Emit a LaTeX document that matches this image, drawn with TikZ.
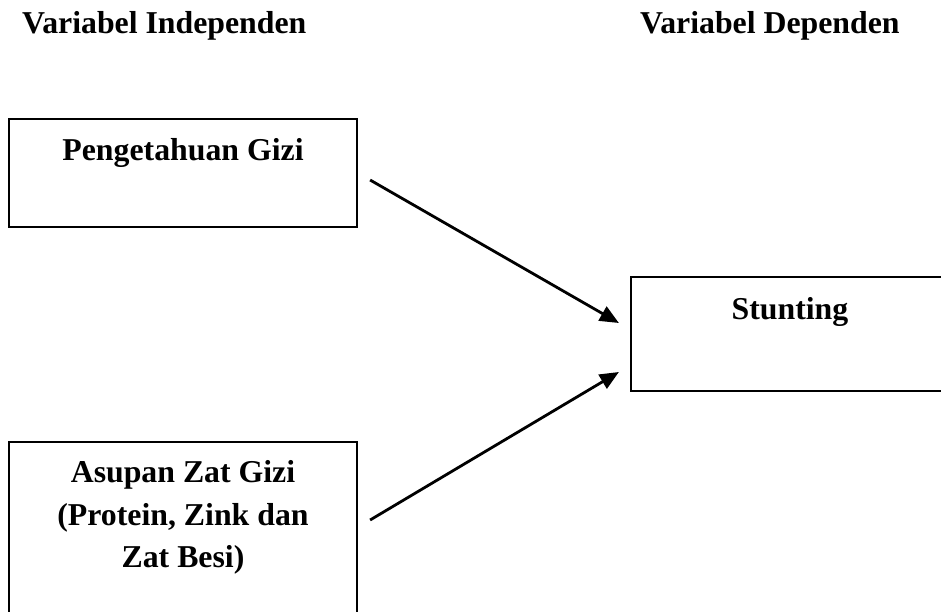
\documentclass[tikz,border=0pt]{standalone}
\usepackage{fontspec}
\setmainfont{Liberation Serif}
\usetikzlibrary{arrows.meta,calc}
\begin{document}
\begin{tikzpicture}[x=1pt,y=-1pt,
  box/.style={draw=black,line width=2.2pt,rectangle,inner sep=0pt},
  lbl/.style={inner sep=0pt,font=\fontsize{31.8}{42.5}\selectfont\bfseries,align=center},
  conn/.style={line width=2.8pt,-{Triangle[length=19pt,width=16pt]}}]
\useasboundingbox (0,0) rectangle (941,611);
\clip (0,0) rectangle (941,611);
\fill[white] (0,0) rectangle (941,611);
% headings
\node[lbl,anchor=base west] (h1) at (22,33) {Variabel Independen};
\node[lbl,anchor=base west] (h2) at (640,33) {Variabel Dependen};
% boxes
\node[box,minimum width=348pt,minimum height=108pt] (b1) at (183,173) {};
\node[box,minimum width=318pt,minimum height=114pt] (st) at (790,334) {};
\node[box,minimum width=348pt,minimum height=208pt] (b3) at (183,546) {};
% texts
\node[lbl,anchor=base] (t1) at (183,160) {Pengetahuan Gizi};
\node[lbl,anchor=base] (t2) at (790,319) {Stunting};
\node[lbl,anchor=base] (t3a) at (183,482) {Asupan Zat Gizi};
\node[lbl,anchor=base] (t3b) at (183,525) {(Protein, Zink dan};
\node[lbl,anchor=base] (t3c) at (183,567) {Zat Besi)};
% connectors
\draw[conn] ($(b1.east)+(12,7)$) -- ($(st.west)+(-11,-11)$);
\draw[conn] ($(b3.east)+(12,-26)$) -- ($(st.west)+(-11,38)$);
\end{tikzpicture}
\end{document}
